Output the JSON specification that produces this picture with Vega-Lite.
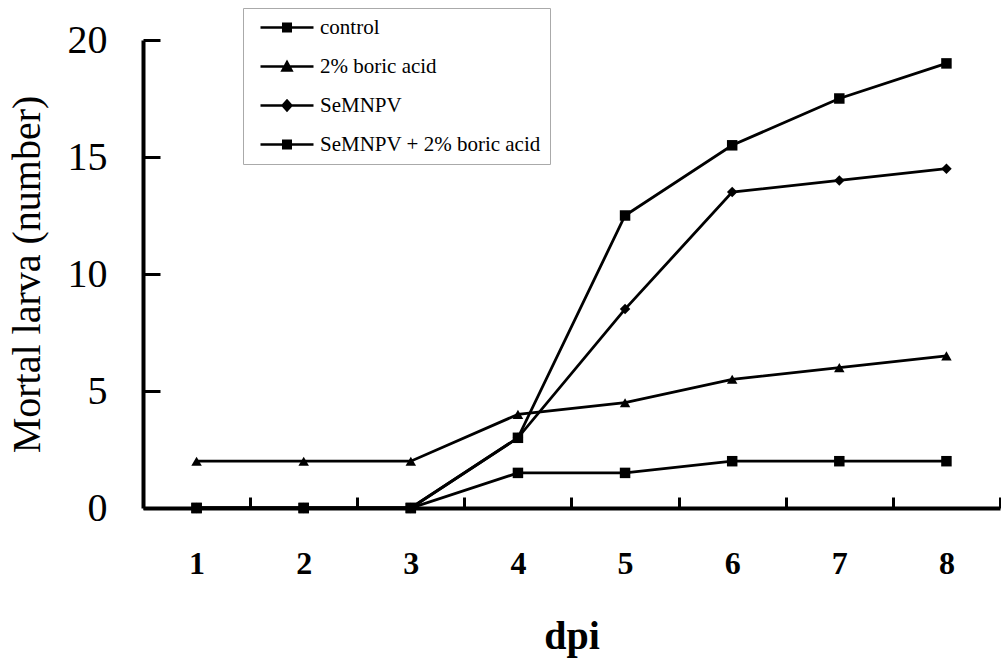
{
  "$schema": "https://vega.github.io/schema/vega-lite/v6.json",
  "width": 857,
  "height": 468,
  "autosize": "none",
  "padding": {"left": 143, "top": 40, "right": 1, "bottom": 153},
  "background": "white",
  "config": {"view": {"stroke": null}, "font": "Liberation Serif"},
  "data": {
    "values": [
      {"dpi": 1, "series": "control", "value": 0},
      {"dpi": 2, "series": "control", "value": 0},
      {"dpi": 3, "series": "control", "value": 0},
      {"dpi": 4, "series": "control", "value": 1.5},
      {"dpi": 5, "series": "control", "value": 1.5},
      {"dpi": 6, "series": "control", "value": 2},
      {"dpi": 7, "series": "control", "value": 2},
      {"dpi": 8, "series": "control", "value": 2},
      {"dpi": 1, "series": "2% boric acid", "value": 2},
      {"dpi": 2, "series": "2% boric acid", "value": 2},
      {"dpi": 3, "series": "2% boric acid", "value": 2},
      {"dpi": 4, "series": "2% boric acid", "value": 4},
      {"dpi": 5, "series": "2% boric acid", "value": 4.5},
      {"dpi": 6, "series": "2% boric acid", "value": 5.5},
      {"dpi": 7, "series": "2% boric acid", "value": 6},
      {"dpi": 8, "series": "2% boric acid", "value": 6.5},
      {"dpi": 1, "series": "SeMNPV", "value": 0},
      {"dpi": 2, "series": "SeMNPV", "value": 0},
      {"dpi": 3, "series": "SeMNPV", "value": 0},
      {"dpi": 4, "series": "SeMNPV", "value": 3},
      {"dpi": 5, "series": "SeMNPV", "value": 8.5},
      {"dpi": 6, "series": "SeMNPV", "value": 13.5},
      {"dpi": 7, "series": "SeMNPV", "value": 14},
      {"dpi": 8, "series": "SeMNPV", "value": 14.5},
      {"dpi": 1, "series": "SeMNPV + 2% boric acid", "value": 0},
      {"dpi": 2, "series": "SeMNPV + 2% boric acid", "value": 0},
      {"dpi": 3, "series": "SeMNPV + 2% boric acid", "value": 0},
      {"dpi": 4, "series": "SeMNPV + 2% boric acid", "value": 3},
      {"dpi": 5, "series": "SeMNPV + 2% boric acid", "value": 12.5},
      {"dpi": 6, "series": "SeMNPV + 2% boric acid", "value": 15.5},
      {"dpi": 7, "series": "SeMNPV + 2% boric acid", "value": 17.5},
      {"dpi": 8, "series": "SeMNPV + 2% boric acid", "value": 19}
    ]
  },
  "encoding": {
    "x": {
      "field": "dpi",
      "type": "ordinal",
      "scale": {"type": "point", "padding": 0.5},
      "axis": {
        "title": "dpi",
        "titleFont": "Liberation Serif",
        "titleFontSize": 40,
        "titleFontWeight": "bold",
        "titleColor": "black",
        "titlePadding": 37,
        "labelFont": "Liberation Serif",
        "labelFontSize": 32,
        "labelFontWeight": "bold",
        "labelColor": "black",
        "labelAngle": 0,
        "labelPadding": 51,
        "labelOffset": -53.56,
        "tickOffset": 53.56,
        "tickSize": -11,
        "tickWidth": 3,
        "tickColor": "black",
        "domainColor": "black",
        "domainWidth": 4,
        "grid": false
      }
    },
    "y": {
      "field": "value",
      "type": "quantitative",
      "scale": {"domain": [0, 20], "nice": false},
      "axis": {
        "title": "Mortal larva (number)",
        "titleFont": "Liberation Serif",
        "titleFontSize": 40,
        "titleFontWeight": "normal",
        "titleColor": "black",
        "titlePadding": 20,
        "values": [0, 5, 10, 15, 20],
        "labelFont": "Liberation Serif",
        "labelFontSize": 40,
        "labelColor": "black",
        "labelPadding": 53,
        "tickSize": -17,
        "tickWidth": 3,
        "tickColor": "black",
        "domainColor": "black",
        "domainWidth": 4,
        "grid": false
      }
    }
  },
  "resolve": {"scale": {"shape": "independent"}},
  "layer": [
    {
      "mark": {"type": "line", "color": "black", "strokeWidth": 2.8},
      "encoding": {"detail": {"field": "series"}}
    },
    {
      "mark": {"type": "point", "filled": true, "color": "black", "opacity": 1, "size": 110},
      "encoding": {
        "shape": {
          "field": "series",
          "type": "nominal",
          "scale": {
            "domain": ["control", "2% boric acid", "SeMNPV", "SeMNPV + 2% boric acid"],
            "range": ["square", "triangle-up", "diamond", "square"]
          },
          "legend": null
        }
      }
    },
    {
      "mark": {"type": "point", "filled": false, "color": "black", "opacity": 0, "strokeWidth": 2.5, "size": 1},
      "encoding": {
        "shape": {
          "field": "series",
          "type": "nominal",
          "scale": {
            "domain": ["control", "2% boric acid", "SeMNPV", "SeMNPV + 2% boric acid"],
            "range": [
              "M-3.03,0L3.03,0M-0.43,-0.43L0.43,-0.43L0.43,0.43L-0.43,0.43ZM-0.43,-0.15L0.43,-0.15M-0.43,0.15L0.43,0.15",
              "M-3.03,0L3.03,0M0,-0.5L0.52,0.47L-0.52,0.47ZM-0.36,0.22L0.36,0.22M-0.2,-0.1L0.2,-0.1",
              "M-3.03,0L3.03,0M0,-0.55L0.5,0L0,0.55L-0.5,0ZM-0.3,-0.2L0.3,-0.2M-0.3,0.2L0.3,0.2",
              "M-3.03,0L3.03,0M-0.43,-0.43L0.43,-0.43L0.43,0.43L-0.43,0.43ZM-0.43,-0.15L0.43,-0.15M-0.43,0.15L0.43,0.15"
            ]
          },
          "legend": {
            "title": null,
            "orient": "none",
            "legendX": 100,
            "legendY": -32,
            "padding": 9,
            "strokeColor": "#aaaaaa",
            "fillColor": "white",
            "labelFont": "Liberation Serif",
            "labelFontSize": 21,
            "labelColor": "black",
            "labelOffset": 22.5,
            "labelLimit": 400,
            "rowPadding": 17,
            "symbolOffset": 24.5,
            "symbolSize": 306,
            "symbolStrokeWidth": 2.5,
            "symbolFillColor": "black",
            "symbolStrokeColor": "black",
            "symbolOpacity": 1
          }
        }
      }
    }
  ]
}
